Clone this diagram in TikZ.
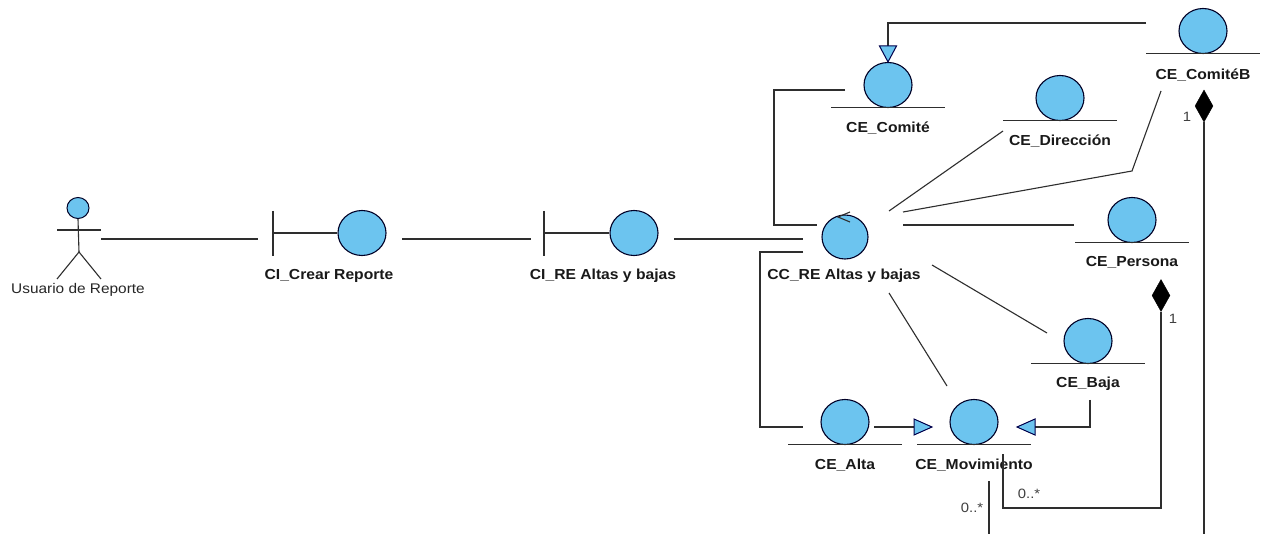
\documentclass[tikz,border=0pt]{standalone}
\usepackage{fontspec}
\setmainfont{Liberation Sans}
\newfontfamily\stretchbold[FakeStretch=1.08]{Liberation Sans Bold}
\newfontfamily\stretchreg[FakeStretch=1.1]{Liberation Sans}
\usetikzlibrary{shapes.geometric}
\definecolor{ballblue}{HTML}{6CC4EF}
\definecolor{inkline}{HTML}{2E2E2E}
\tikzset{
  ball/.style={ellipse,draw=black!85!blue,fill=ballblue,line width=1.1pt,minimum width=48pt,minimum height=45pt,inner sep=0pt},
  head/.style={ellipse,draw=black!85!blue,fill=ballblue,line width=1pt,minimum width=22pt,minimum height=21pt,inner sep=0pt},
  conn/.style={draw=inkline,line width=1.1pt},
  bar/.style={draw=inkline,line width=1.1pt},
  cname/.style={font=\stretchbold\fontsize{14.5}{16}\selectfont,text=black!90,inner sep=0pt,anchor=center},
  mult/.style={font=\stretchreg\fontsize{13.5}{15}\selectfont,text=black!75,inner sep=0pt,anchor=center},
  hollow/.style={draw=black!70!blue,fill=ballblue,line width=1pt,line join=miter},
  solid diamond/.style={diamond,aspect=0.56,fill=black,draw=black,inner sep=0pt,minimum width=18pt,minimum height=32pt}
}
\newcommand{\entity}[5]{% name x y label label-dy
  \node[ball] (#1) at (#2,#3) {};
  \draw[bar] ([shift={(-57,22.5)}]#1.center) -- ([shift={(57,22.5)}]#1.center);
  \node[cname] (#1-l) at ([shift={(0,#5)}]#1.center) {#4};
}
\begin{document}
\begin{tikzpicture}[x=1pt,y=-1pt]
\useasboundingbox (0,0) rectangle (1261,534);
\fill[white] (0,0) rectangle (1261,534);
% actor
\node[head] (actor) at (78,208) {};
\coordinate (actorhip) at (79,252);
\node[font=\stretchreg\fontsize{14}{16}\selectfont,text=black!85,inner sep=0pt] (actor-l) at (78,290) {Usuario de Reporte};
\draw[bar] (actor.south) -- (actorhip);
\draw[bar] ([shift={(-21,22)}]actor.center) -- ([shift={(23,22)}]actor.center);
\draw[bar] ([shift={(-21,71)}]actor.center) -- (actorhip) -- ([shift={(23,71)}]actor.center);
% boundaries
\node[ball] (crear) at (362,233) {};
\draw[bar] ([shift={(-89,-22)}]crear.center) -- ([shift={(-89,23)}]crear.center);
\draw[bar] ([shift={(-89,0)}]crear.center) -- (crear.west);
\node[cname] (crear-l) at (329,276) {CI\_Crear Reporte};
\node[ball] (re) at (634,233) {};
\draw[bar] ([shift={(-90,-22)}]re.center) -- ([shift={(-90,23)}]re.center);
\draw[bar] ([shift={(-90,0)}]re.center) -- (re.west);
\node[cname] (re-l) at (603,276) {CI\_RE Altas y bajas};
% control
\node[ball,minimum width=46pt,minimum height=44pt] (cc) at (845,237) {};
\draw[bar] ([shift={(5,-25)}]cc.center) -- ([shift={(-7,-20)}]cc.center) -- ([shift={(5,-15)}]cc.center);
\node[cname] (cc-l) at (844,276) {CC\_RE Altas y bajas};
% entities
\entity{combi}{1203}{31}{CE\_ComitéB}{44}
\entity{comite}{888}{85}{CE\_Comité}{43}
\entity{dir}{1060}{98}{CE\_Dirección}{43}
\entity{pers}{1132}{220}{CE\_Persona}{42}
\entity{baja}{1088}{341}{CE\_Baja}{43}
\entity{alta}{845}{422}{CE\_Alta}{43}
\entity{mov}{974}{422}{CE\_Movimiento}{43}
% plain connectors
\draw[conn] ([shift={(23,31)}]actor.center) -- ([shift={(-104,6)}]crear.center);
\draw[conn] ([shift={(40,6)}]crear.center) -- ([shift={(-103,6)}]re.center);
\draw[conn] ([shift={(40,6)}]re.center) -- ([shift={(-42,2)}]cc.center);
\draw[conn] ([shift={(-43,5)}]comite.center) -- ([shift={(-114,5)}]comite.center) |- ([shift={(-28,-12)}]cc.center);
\draw[conn] ([shift={(-42,15)}]cc.center) -- ([shift={(-85,15)}]cc.center) |- ([shift={(-42,5)}]alta.center);
\draw[conn] ([shift={(-57,33)}]dir.center) -- ([shift={(44,-26)}]cc.center);
\draw[conn] ([shift={(-42,60)}]combi.center) -- ([shift={(-71,140)}]combi.center) -- ([shift={(58,-25)}]cc.center);
\draw[conn] ([shift={(58,-12)}]cc.center) -- ([shift={(-58,5)}]pers.center);
\draw[conn] ([shift={(87,28)}]cc.center) -- ([shift={(-41,-8)}]baja.center);
\draw[conn] ([shift={(44,56)}]cc.center) -- ([shift={(-27,-36)}]mov.center);
% generalisations
\coordinate (g1) at (888,46);
\draw[conn] ([shift={(-57,-8)}]combi.center) -| (g1);
\draw[hollow] (g1) ++(-8.5,0) -- ++(17,0) -- (comite.north) -- cycle;
\coordinate (g2) at (914,427);
\draw[conn] ([shift={(29,5)}]alta.center) -- (g2);
\draw[hollow] (g2) ++(0,-8) -- ++(0,16) -- ++(18,-8) -- cycle;
\coordinate (g3) at (1035,427);
\draw[conn] ([shift={(2,59)}]baja.center) |- (g3);
\draw[hollow] (g3) ++(0,-8) -- ++(0,16) -- ++(-18,-8) -- cycle;
% compositions
\node[solid diamond] (d1) at (1161,295.5) {};
\draw[conn] (d1.south) -- (1161,508) -| ([shift={(29,32)}]mov.center);
\node[mult] (d1-m) at (1173,319) {1};
\node[mult] (mov-m1) at (1029,494) {0..*};
\node[solid diamond] (d2) at (1204,106) {};
\coordinate (d2end) at (1204,534);
\draw[conn] (d2.south) -- (d2end);
\node[mult] (d2-m) at (1187,117) {1};
\coordinate (m2end) at (989,534);
\draw[conn] ([shift={(15,59)}]mov.center) -- (m2end);
\node[mult] (mov-m2) at (972,508) {0..*};
\end{tikzpicture}
\end{document}
